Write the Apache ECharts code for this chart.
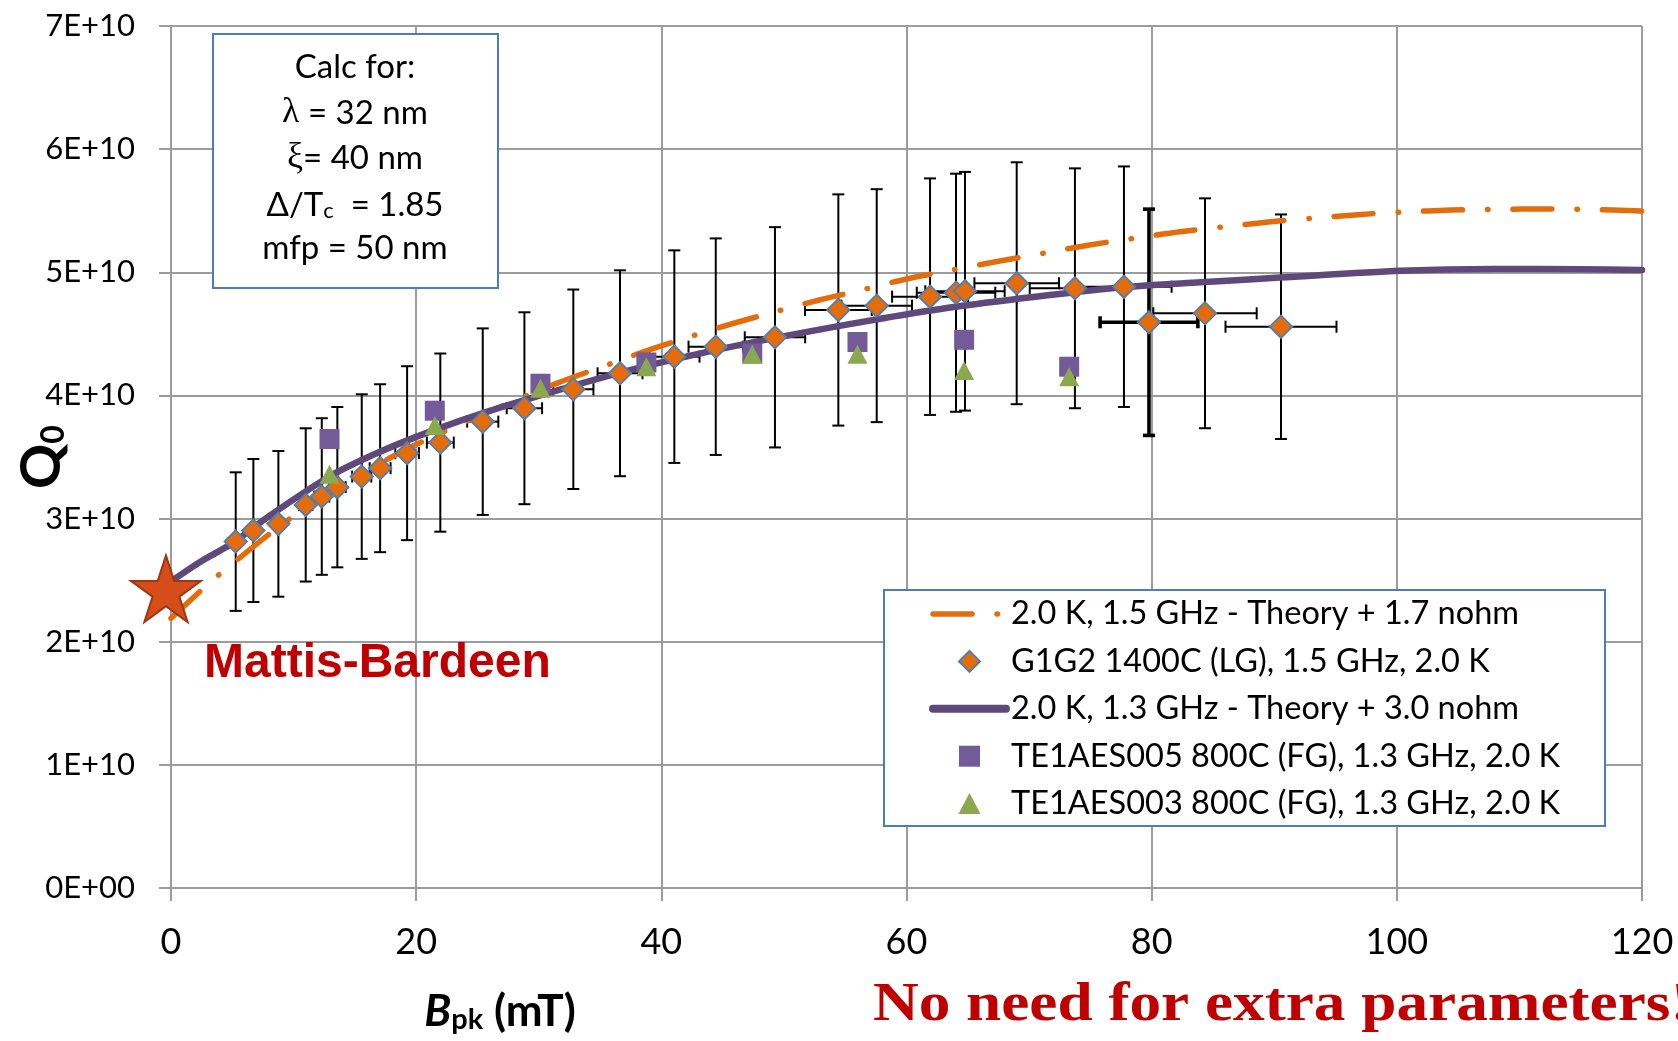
<!DOCTYPE html>
<html>
<head>
<meta charset="utf-8">
<script src="https://cdn.jsdelivr.net/npm/echarts@6/dist/echarts.min.js"></script>
<style>
  html, body { margin: 0; padding: 0; background: #ffffff; }
  #chart { width: 1678px; height: 1041px; }
</style>
</head>
<body>
<div id="chart"></div>
<script>
// ---- Measured data -------------------------------------------------------
// G1G2 1400C (LG), 1.5 GHz, 2.0 K : peak field (mT) and Q0
const g1g2Bpk = [5.28, 6.72, 8.76, 10.99, 12.3, 13.57, 15.56, 17.06, 19.26, 21.97,
                 25.43, 28.83, 32.82, 36.63, 41.06, 44.44, 49.27, 54.44, 57.57, 61.92,
                 64.04, 64.77, 68.99, 73.74, 77.74, 79.78, 84.35, 90.55];
const g1g2Q0 = [2.813e10, 2.903e10, 2.957e10, 3.111e10, 3.179e10, 3.255e10, 3.341e10, 3.409e10, 3.531e10, 3.617e10,
                3.787e10, 3.896e10, 4.050e10, 4.180e10, 4.315e10, 4.396e10, 4.472e10, 4.694e10, 4.729e10, 4.802e10,
                4.834e10, 4.846e10, 4.911e10, 4.870e10, 4.883e10, 4.594e10, 4.667e10, 4.558e10];

// TE1AES005 800C (FG), 1.3 GHz, 2.0 K
const aes005Bpk = [12.93, 21.52, 30.14, 38.78, 47.42, 56.0, 64.7, 73.27];
const aes005Q0 = [3.646e10, 3.876e10, 4.095e10, 4.268e10, 4.340e10, 4.434e10, 4.452e10, 4.233e10];

// TE1AES003 800C (FG), 1.3 GHz, 2.0 K
const aes003Bpk = [12.93, 21.52, 30.14, 38.78, 47.42, 56.0, 64.7, 73.27];
const aes003Q0 = [3.360e10, 3.755e10, 4.058e10, 4.232e10, 4.335e10, 4.335e10, 4.202e10, 4.152e10];

// Theory, 2.0 K, 1.5 GHz + 1.7 nOhm residual
const theory15Bpk = [0, 2.6, 4.1, 10, 18, 23, 27.4, 31.5, 35.1, 38.7, 42.1, 45.7, 49.3, 52.9, 56.5,
                     60.2, 63.8, 67.5, 71.2, 74.8, 78.5, 82.3, 86, 89.7, 93.3, 97.1, 100.5, 104.5,
                     108.3, 112, 115.8, 120];
const theory15Q0 = [2.19e10, 2.43e10, 2.56e10, 3.02e10, 3.50e10, 3.74e10, 3.93e10, 4.10e10, 4.23e10, 4.36e10,
                    4.47e10, 4.58e10, 4.68e10, 4.775e10, 4.86e10, 4.95e10, 5.02e10, 5.09e10, 5.155e10, 5.22e10,
                    5.275e10, 5.33e10, 5.37e10, 5.41e10, 5.44e10, 5.47e10, 5.49e10, 5.505e10, 5.511e10,
                    5.514e10, 5.511e10, 5.497e10];

// Theory, 2.0 K, 1.3 GHz + 3.0 nOhm residual
const theory13Bpk = [0, 2.4, 5, 8, 12.9, 17, 21.5, 26, 32.5, 38, 44.5, 51, 58.1, 64, 71.7, 77.7, 84,
                     90.5, 100.3, 108, 115, 120];
const theory13Q0 = [2.49e10, 2.65e10, 2.80e10, 3.02e10, 3.34e10, 3.54e10, 3.72e10, 3.875e10, 4.07e10, 4.22e10,
                    4.37e10, 4.50e10, 4.627e10, 4.72e10, 4.816e10, 4.879e10, 4.919e10, 4.957e10, 5.012e10,
                    5.027e10, 5.025e10, 5.019e10];

// Low-field Mattis-Bardeen value
const mbBpk = [-0.41];
const mbQ0 = [2.43e10];

// Axis ticks
const xTickValues = [0, 20, 40, 60, 80, 100, 120];
const yTickLabels = ['0E+00', '1E+10', '2E+10', '3E+10', '4E+10', '5E+10', '6E+10', '7E+10'];

// Error bars: +/-20 % on Q0, +/-5 % on Bpk
const Q_REL_ERR = 0.20;
const B_REL_ERR = 0.05;

// ---- Series names ----------------------------------------------------------
const NAME_TH15 = '2.0 K, 1.5 GHz - Theory + 1.7 nohm';
const NAME_G1G2 = 'G1G2 1400C (LG), 1.5 GHz, 2.0 K';
const NAME_TH13 = '2.0 K, 1.3 GHz - Theory + 3.0 nohm';
const NAME_005 = 'TE1AES005 800C (FG), 1.3 GHz, 2.0 K';
const NAME_003 = 'TE1AES003 800C (FG), 1.3 GHz, 2.0 K';

const ORANGE = '#E46C0A';
const PURPLE_LINE = '#5F497A';
const PURPLE_MARK = '#735A98';
const GREEN_MARK = '#8BA84E';
const BLUE_EDGE = '#4A7EBB';
const GRID_GREY = '#9c9c9c';
const RED_TEXT = '#C00000';
const SANS = 'Lato, "Noto Sans", sans-serif';

// marker outlines used for the legend keys (aspect kept, 20 px box)
const ICON_DIAMOND = 'path://M10,0 L20,10 L10,20 L0,10 Z';
const ICON_SQUARE = 'path://M0,0 L20,0 L20,20 L0,20 Z';
const ICON_TRIANGLE = 'path://M10,0 L20,19 L0,19 Z';

const zip = (xs, ys) => xs.map((x, i) => [x, ys[i]]);

// the one point drawn with heavier error bars
const heavyBarIndex = [25];

function renderErrorBars(params, api) {
  const b = api.value(0);
  const q = api.value(1);
  const w = heavyBarIndex.includes(params.dataIndex) ? 3.6 : 2;
  const c = api.coord([b, q]);
  const yTop = api.coord([b, q * (1 + Q_REL_ERR)])[1];
  const yBot = api.coord([b, q * (1 - Q_REL_ERR)])[1];
  const xL = api.coord([b * (1 - B_REL_ERR), q])[0];
  const xR = api.coord([b * (1 + B_REL_ERR), q])[0];
  const cap = 6;
  const style = { stroke: '#000000', lineWidth: w };
  const seg = (x1, y1, x2, y2) => ({ type: 'line', shape: { x1, y1, x2, y2 }, style });
  return {
    type: 'group',
    children: [
      seg(c[0], yTop, c[0], yBot),
      seg(c[0] - cap, yTop, c[0] + cap, yTop),
      seg(c[0] - cap, yBot, c[0] + cap, yBot),
      seg(xL, c[1], xR, c[1]),
      seg(xL, c[1] - cap, xL, c[1] + cap),
      seg(xR, c[1] - cap, xR, c[1] + cap)
    ]
  };
}

const STAR_PATH = 'path://M50,0 L61.23,34.55 L97.55,34.55 L68.17,55.9 L79.39,90.45 L50,69.1 L20.61,90.45 L31.83,55.9 L2.45,34.55 L38.77,34.55 Z';

const chart = echarts.init(document.getElementById('chart'), null, { renderer: 'canvas' });

const option = {
  animation: false,
  backgroundColor: '#ffffff',
  grid: { left: 171, right: 36, top: 26, bottom: 153, containLabel: false },
  xAxis: {
    type: 'value',
    min: xTickValues[0],
    max: xTickValues[xTickValues.length - 1],
    interval: xTickValues[1] - xTickValues[0],
    axisLine: { show: true, lineStyle: { color: GRID_GREY, width: 2 } },
    axisTick: { show: true, length: 13, lineStyle: { color: GRID_GREY, width: 2 } },
    splitLine: { show: true, lineStyle: { color: GRID_GREY, width: 2 } },
    axisLabel: { fontFamily: SANS, fontSize: 36, color: '#000', margin: 36, lineHeight: 36 }
  },
  yAxis: {
    type: 'value',
    min: 0,
    max: 7e10,
    interval: 1e10,
    axisLine: { show: true, lineStyle: { color: GRID_GREY, width: 2 } },
    axisTick: { show: true, length: 12, lineStyle: { color: GRID_GREY, width: 2 } },
    splitLine: { show: true, lineStyle: { color: GRID_GREY, width: 2 } },
    axisLabel: {
      fontFamily: SANS, fontSize: 31, color: '#000', margin: 36,
      formatter: (v) => yTickLabels[Math.round(v / 1e10)]
    }
  },
  legend: {
    orient: 'vertical',
    left: 929,
    top: 596,
    padding: 0,
    itemWidth: 73,
    itemHeight: 21,
    itemGap: 11.4,
    selectedMode: false,
    symbolKeepAspect: true,
    z: 6,
    textStyle: { fontFamily: SANS, fontSize: 32.5, color: '#000', lineHeight: 36 },
    lineStyle: { width: 'inherit', type: 'inherit', cap: 'inherit' },
    data: [
      { name: NAME_TH15, itemStyle: { opacity: 0 } },
      { name: NAME_G1G2, icon: ICON_DIAMOND },
      { name: NAME_TH13, itemStyle: { opacity: 0 }, lineStyle: { width: 8 } },
      { name: NAME_005, icon: ICON_SQUARE },
      { name: NAME_003, icon: ICON_TRIANGLE }
    ]
  },
  graphic: [
    // legend frame
    { type: 'rect', z: 3, shape: { x: 884, y: 590, width: 721, height: 236 },
      style: { fill: '#ffffff', stroke: BLUE_EDGE, lineWidth: 2 } },
    // parameter box
    { type: 'rect', z: 3, shape: { x: 213, y: 34, width: 285, height: 254 },
      style: { fill: '#ffffff', stroke: BLUE_EDGE, lineWidth: 2 } },
    { type: 'text', z: 5, x: 355, y: 67,
      style: { text: 'Calc for:', font: '33px ' + SANS, fill: '#000', align: 'center', verticalAlign: 'middle' } },
    { type: 'text', z: 5, x: 355, y: 113,
      style: { text: '{g|λ}{n| = 32 nm}', align: 'center', verticalAlign: 'middle',
        rich: { g: { fontFamily: '"Liberation Serif", serif', fontSize: 36, fill: '#000' },
                n: { fontFamily: SANS, fontSize: 33, fill: '#000' } } } },
    { type: 'text', z: 5, x: 355, y: 158,
      style: { text: '{g|ξ}{n|= 40 nm}', align: 'center', verticalAlign: 'middle',
        rich: { g: { fontFamily: '"Liberation Serif", serif', fontSize: 36, fill: '#000' },
                n: { fontFamily: SANS, fontSize: 33, fill: '#000' } } } },
    { type: 'text', z: 5, x: 355, y: 202,
      style: { text: '{n|Δ/T}{s|c}{n|  = 1.85}', align: 'center', verticalAlign: 'middle',
        rich: { n: { fontFamily: SANS, fontSize: 33, fill: '#000', lineHeight: 40, verticalAlign: 'bottom' },
                s: { fontFamily: SANS, fontSize: 22, fill: '#000', lineHeight: 18, verticalAlign: 'bottom' } } } },
    { type: 'text', z: 5, x: 355, y: 248,
      style: { text: 'mfp = 50 nm', font: '33px ' + SANS, fill: '#000', align: 'center', verticalAlign: 'middle' } },
    // y-axis title
    { type: 'text', z: 5, x: 38, y: 457, rotation: Math.PI / 2,
      style: { text: '{q|Q}{s|0}', align: 'center', verticalAlign: 'middle',
        rich: { q: { fontFamily: SANS, fontWeight: 'bold', fontSize: 56, fill: '#000', lineHeight: 64, verticalAlign: 'bottom' },
                s: { fontFamily: SANS, fontWeight: 'bold', fontSize: 32, fill: '#000', lineHeight: 32, verticalAlign: 'bottom' } } } },
    // x-axis title
    { type: 'text', z: 5, x: 500, y: 1009,
      style: { text: '{b|B}{s|pk}{n| (mT)}', align: 'center', verticalAlign: 'middle',
        rich: { b: { fontFamily: SANS, fontWeight: 'bold', fontStyle: 'italic', fontSize: 44, fill: '#000', lineHeight: 50, verticalAlign: 'bottom' },
                s: { fontFamily: SANS, fontWeight: 'bold', fontSize: 29, fill: '#000', lineHeight: 30, verticalAlign: 'bottom' },
                n: { fontFamily: SANS, fontWeight: 'bold', fontSize: 44, fill: '#000', lineHeight: 50, verticalAlign: 'bottom' } } } },
    // annotations
    { type: 'text', z: 5, x: 204, y: 664,
      style: { text: 'Mattis-Bardeen', font: 'bold 48px "Liberation Sans", Arial, sans-serif', fill: RED_TEXT,
               align: 'left', verticalAlign: 'middle' } },
    { type: 'text', z: 5, x: 873, y: 1006, scaleX: 1.15,
      style: { text: 'No need for extra parameters!', font: 'bold 55px "Liberation Serif", "Times New Roman", serif',
               fill: RED_TEXT, align: 'left', verticalAlign: 'middle' } }
  ],
  series: [
    {
      name: 'error bars',
      type: 'custom',
      z: 2,
      renderItem: renderErrorBars,
      data: zip(g1g2Bpk, g1g2Q0),
      encode: { x: 0, y: 1 },
      silent: true
    },
    {
      name: NAME_TH15,
      type: 'line',
      z: 3,
      smooth: 0.3,
      symbol: 'circle',
      showSymbol: false,
      itemStyle: { color: ORANGE },
      lineStyle: { color: ORANGE, width: 5.5, type: [39, 25, 0.5, 25], cap: 'round' },
      data: zip(theory15Bpk, theory15Q0)
    },
    {
      name: NAME_TH13,
      type: 'line',
      z: 3,
      smooth: 0.3,
      symbol: 'circle',
      showSymbol: false,
      itemStyle: { color: PURPLE_LINE },
      lineStyle: { color: PURPLE_LINE, width: 6.5, cap: 'round' },
      data: zip(theory13Bpk, theory13Q0)
    },
    {
      name: NAME_G1G2,
      type: 'scatter',
      z: 4,
      symbol: 'diamond',
      symbolSize: 22.5,
      itemStyle: { color: ORANGE, borderColor: BLUE_EDGE, borderWidth: 1.8, opacity: 1 },
      data: zip(g1g2Bpk, g1g2Q0)
    },
    {
      name: NAME_005,
      type: 'scatter',
      z: 5,
      symbol: 'rect',
      symbolSize: 20,
      itemStyle: { color: PURPLE_MARK, opacity: 1 },
      data: zip(aes005Bpk, aes005Q0)
    },
    {
      name: NAME_003,
      type: 'scatter',
      z: 6,
      symbol: 'triangle',
      symbolSize: [20, 19],
      itemStyle: { color: GREEN_MARK, opacity: 1 },
      data: zip(aes003Bpk, aes003Q0)
    },
    {
      name: 'Mattis-Bardeen',
      type: 'scatter',
      z: 7,
      clip: false,
      symbol: STAR_PATH,
      symbolSize: [70, 66.5],
      symbolKeepAspect: false,
      itemStyle: { color: '#D64D1A', borderColor: '#9E3714', borderWidth: 2, opacity: 1 },
      data: zip(mbBpk, mbQ0)
    }
  ]
};

chart.setOption(option);
</script>
</body>
</html>
